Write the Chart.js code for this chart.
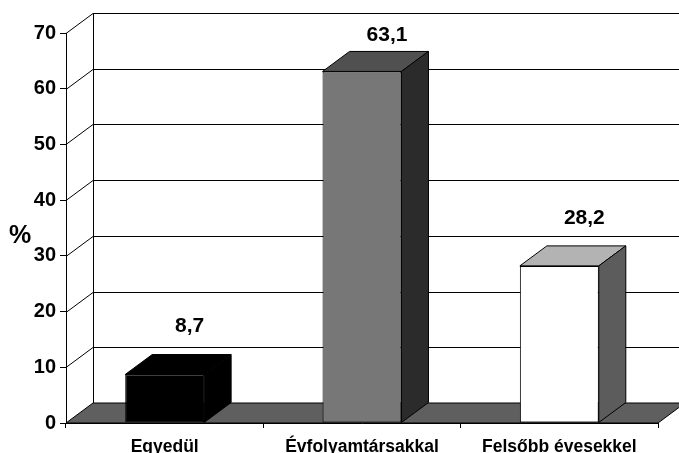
<!DOCTYPE html>
<html><head><meta charset="utf-8">
<script src="https://cdn.jsdelivr.net/npm/chart.js@4"></script>
<style>html,body{margin:0;padding:0;background:#fff}</style>
</head><body>
<canvas id="c" width="679" height="453" style="width:679px;height:453px;display:block"></canvas>
<script>
const categories = ['Egyedül', 'Évfolyamtársakkal', 'Felsőbb évesekkel'];
const values = [8.7, 63.1, 28.2];
const valueLabels = ['8,7', '63,1', '28,2'];
const yTicks = [0, 10, 20, 30, 40, 50, 60, 70];
const axisTitle = '%';
const frontColors = ['#000000', '#777777', '#ffffff'];
const topColors = ['#000000', '#505050', '#b3b3b3'];
const sideColors = ['#000000', '#2b2b2b', '#5c5c5c'];
const FLOOR = '#5f5f5f';
const DX = 27, DY = -20;
const FONT = "'Liberation Sans', Arial, sans-serif";

function poly(ctx, pts, fill) {
  ctx.beginPath();
  ctx.moveTo(pts[0][0], pts[0][1]);
  for (let i = 1; i < pts.length; i++) ctx.lineTo(pts[i][0], pts[i][1]);
  ctx.closePath();
  if (fill) { ctx.fillStyle = fill; ctx.fill(); }
  ctx.stroke();
}

const threeD = {
  id: 'threeD',
  beforeDatasetsDraw(chart) {
    const ctx = chart.ctx, a = chart.chartArea, y = chart.scales.y;
    const W = chart.width;
    ctx.save();
    ctx.strokeStyle = '#000';
    ctx.lineWidth = 1;
    const y0 = y.getPixelForValue(0);
    poly(ctx, [[a.left, y0], [a.right, y0], [a.right + DX, y0 + DY], [a.left + DX, y0 + DY]], FLOOR);
    const yTop = y.getPixelForValue(yTicks[yTicks.length - 1]);
    ctx.beginPath();
    ctx.moveTo(a.left + DX + 0.5, yTop + DY);
    ctx.lineTo(a.left + DX + 0.5, y0 + DY);
    ctx.stroke();
    yTicks.forEach(v => {
      if (v === 0) return;
      const py = Math.round(y.getPixelForValue(v)) + 0.5;
      ctx.beginPath();
      ctx.moveTo(a.left, py);
      ctx.lineTo(a.left + DX, py + DY);
      ctx.lineTo(W, py + DY);
      ctx.stroke();
    });
    ctx.fillStyle = '#000';
    ctx.font = 'bold 25px ' + FONT;
    ctx.textAlign = 'center';
    ctx.textBaseline = 'middle';
    ctx.fillText(axisTitle, 20, 236);
    ctx.restore();
  },
  afterDatasetsDraw(chart) {
    const ctx = chart.ctx;
    const meta = chart.getDatasetMeta(0);
    ctx.save();
    ctx.strokeStyle = '#000';
    ctx.lineWidth = 1;
    meta.data.forEach((bar, i) => {
      const l = bar.x - bar.width / 2, r = bar.x + bar.width / 2;
      const t = bar.y, b = bar.base;
      poly(ctx, [[l, t], [r, t], [r + DX, t + DY], [l + DX, t + DY]], topColors[i]);
      poly(ctx, [[r, t], [r + DX, t + DY], [r + DX, b + DY], [r, b]], sideColors[i]);
      ctx.fillStyle = '#000';
      ctx.font = 'bold 21px ' + FONT;
      ctx.textAlign = 'center';
      ctx.textBaseline = 'middle';
      const ly = Math.max(t + DY - 28, 35);
      ctx.fillText(valueLabels[i], bar.x + 25, ly);
    });
    ctx.restore();
  }
};

new Chart(document.getElementById('c'), {
  type: 'bar',
  data: {
    labels: categories,
    datasets: [{
      data: values,
      backgroundColor: frontColors,
      borderColor: '#000',
      borderWidth: 1,
      borderSkipped: false,
      categoryPercentage: 1,
      barPercentage: 0.4
    }]
  },
  options: {
    responsive: false,
    devicePixelRatio: 1,
    animation: false,
    layout: { padding: { top: 33, right: 21, left: 0, bottom: 0 } },
    plugins: { legend: { display: false }, tooltip: { enabled: false } },
    scales: {
      y: {
        min: 0, max: 70,
        afterBuildTicks(s) { s.ticks = yTicks.map(v => ({ value: v })); },
        afterFit(s) { s.width = 66; },
        ticks: { color: '#000', font: { family: FONT, size: 20, weight: 'bold' }, padding: 4 },
        grid: { drawOnChartArea: false, tickLength: 6, color: '#000' },
        border: { color: '#000', width: 1 }
      },
      x: {
        afterFit(s) { s.height = 30; },
        ticks: { color: '#000', font: { family: FONT, size: 17.5, weight: 'bold' }, padding: 9 },
        grid: { drawOnChartArea: false, tickLength: 5, color: '#000', offset: true },
        border: { color: '#000', width: 1 }
      }
    }
  },
  plugins: [threeD]
});
</script>
</body></html>
